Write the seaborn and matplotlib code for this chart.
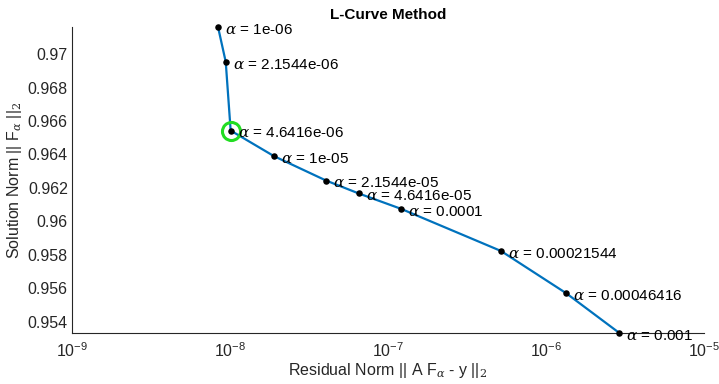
import matplotlib
matplotlib.use("Agg")
import matplotlib.pyplot as plt
import seaborn as sns
import pandas as pd

# L-curve data
alphas = ["1e-06", "2.1544e-06", "4.6416e-06", "1e-05", "2.1544e-05",
          "4.6416e-05", "0.0001", "0.00021544", "0.00046416", "0.001"]
residual_norm = [8.4e-9, 9.4e-9, 1.01e-8, 1.9e-8, 4.06e-8,
                 6.53e-8, 1.21e-7, 5.19e-7, 1.34e-6, 2.91e-6]
solution_norm = [0.97163, 0.96954, 0.96543, 0.96390, 0.96244,
                 0.96167, 0.96075, 0.95823, 0.95571, 0.95333]
best_idx = 2

df = pd.DataFrame({"residual": residual_norm, "solution": solution_norm, "alpha": alphas})

sns.set_style("white")
plt.rcParams['font.family'] = ['Liberation Sans', 'DejaVu Sans']
plt.rcParams['mathtext.fontset'] = 'dejavuserif'

text_col = "#262626"
fig = plt.figure(figsize=(7.19, 3.84), dpi=100)
ax = fig.add_axes([0.1001, 0.133, 0.8790, 0.797])

sns.lineplot(data=df, x="residual", y="solution", sort=False, color="#0072BD",
             linewidth=1.6, ax=ax, zorder=2, clip_on=False)
sns.scatterplot(data=df, x="residual", y="solution", color="black", s=22,
                edgecolor="black", linewidth=0, ax=ax, zorder=3, clip_on=False)
ax.plot(df["residual"][best_idx], df["solution"][best_idx], marker="o",
        markersize=13, markerfacecolor="none", markeredgecolor="#22dd22",
        markeredgewidth=2.2, zorder=4)

for _, r in df.iterrows():
    ax.annotate(r"$\alpha$ = " + r["alpha"], (r["residual"], r["solution"]),
                xytext=(5, -2), textcoords="offset points", va="center",
                ha="left", fontsize=11, color="black", zorder=5)

ax.set_xscale("log")
ax.set_xlim(1e-9, 1e-5)
ax.set_ylim(min(solution_norm), max(solution_norm))
ax.set_yticks([0.954, 0.956, 0.958, 0.96, 0.962, 0.964, 0.966, 0.968, 0.97])
ax.set_yticklabels(["0.954", "0.956", "0.958", "0.96", "0.962", "0.964",
                    "0.966", "0.968", "0.97"])
ax.yaxis.set_minor_locator(matplotlib.ticker.MultipleLocator(0.0005))

for s in ["top", "right"]:
    ax.spines[s].set_visible(False)
for s in ["left", "bottom"]:
    ax.spines[s].set_color(text_col)
    ax.spines[s].set_linewidth(0.8)
ax.tick_params(which="both", direction="in", colors=text_col, labelsize=11.5,
               labelcolor=text_col)
ax.tick_params(which="major", length=5, width=0.8)
ax.tick_params(which="minor", length=2.5, width=0.6)
ax.tick_params(axis="x", pad=6)
ax.tick_params(axis="y", pad=3)

ax.set_xlabel(r"Residual Norm || A F$_\alpha$ - y ||$_{\rm 2}$", fontsize=11.5,
              color=text_col, labelpad=1)
ax.set_ylabel(r"Solution Norm || F$_\alpha$ ||$_{\rm 2}$", fontsize=11.5,
              color=text_col, labelpad=3)
ax.set_title("L-Curve Method", fontsize=11, fontweight="bold", color="black",
             pad=6)

fig.savefig("out.png", dpi=100)
